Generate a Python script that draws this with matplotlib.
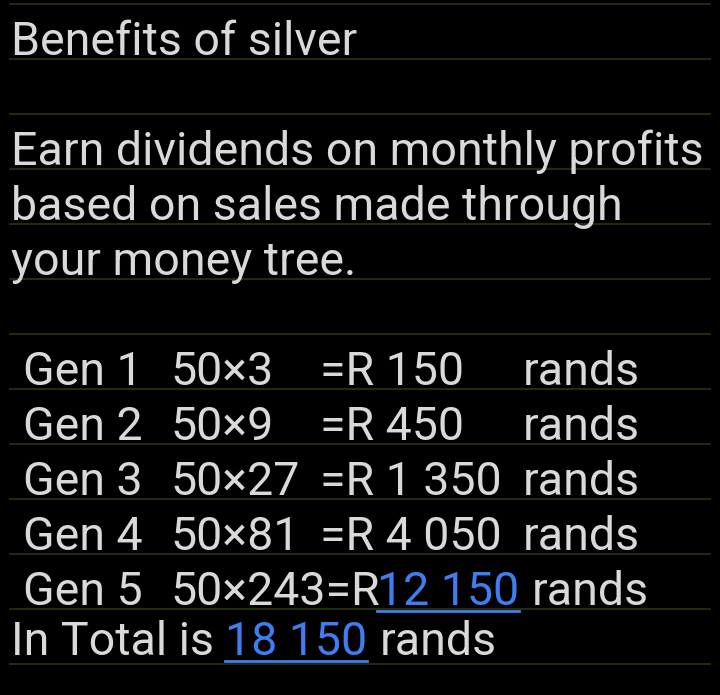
import matplotlib
matplotlib.use("Agg")
import matplotlib.pyplot as plt

W, H = 720, 695
gens = ["Gen 1", "Gen 2", "Gen 3", "Gen 4", "Gen 5"]
mults = ["50×3", "50×9", "50×27", "50×81", "50×243=R"]
amounts = ["=R 150", "=R 450", "=R 1 350", "=R 4 050", "12 150"]
total = "18 150"
header = ["Benefits of silver", "", "Earn dividends on monthly profits",
          "based on sales made through", "your money tree.", ""]

fig = plt.figure(figsize=(W/100, H/100), dpi=100, facecolor="black")
ax = fig.add_axes([0, 0, 1, 1])
ax.set_xlim(0, W); ax.set_ylim(H, 0); ax.axis("off")
ax.set_facecolor("black")
plt.rcParams['font.family'] = ['Roboto', 'DejaVu Sans']
fc = "#d9d9d9"; blue = "#3d7ef0"; fs = 33.5

for k in range(13):
    y = 4 + 55 * k
    ax.plot([10, 710], [y, y], color="#2a3410", lw=1.2)

def t(x, y, s, c=fc, ul=False):
    tx = ax.text(x, y, s, color=c, fontsize=fs, va="baseline", ha="left")
    if ul:
        fig.canvas.draw()
        bb = tx.get_window_extent().transformed(ax.transData.inverted())
        ax.plot([bb.x0, bb.x1], [y + 6, y + 6], color=c, lw=2)

for i, s in enumerate(header):
    if s:
        t(11, 55 + 55 * i, s)
for i in range(5):
    y = 385 + 55 * i
    t(23, y, gens[i])
    t(170, y, mults[i])
    if i < 4:
        t(320, y, amounts[i])
        t(523, y, "rands")
    else:
        t(377, y, amounts[i], blue, ul=True)
        t(532, y, "rands")
y = 385 + 55 * 5 - 5
t(11, y, "In Total is")
t(225, y, total, blue, ul=True)
t(380, y, "rands")
fig.savefig("out.png", dpi=100, facecolor="black")
